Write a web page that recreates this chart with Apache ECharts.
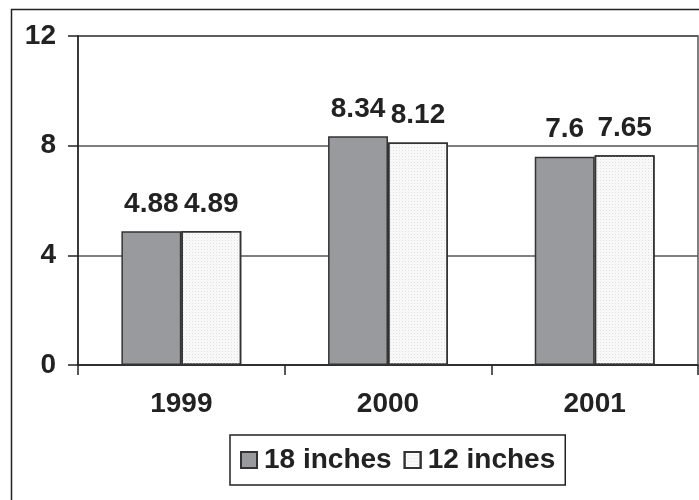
<!DOCTYPE html>
<html>
<head>
<meta charset="utf-8">
<script src="https://cdn.jsdelivr.net/npm/echarts@6/dist/echarts.min.js"></script>
<style>
html,body{margin:0;padding:0;background:#fff;}
#chart{width:699px;height:500px;}
</style>
</head>
<body>
<div id="chart"></div>
<script>
var categories = ['1999', '2000', '2001'];
var seriesNames = ['18 inches', '12 inches'];
var values18 = [4.88, 8.34, 7.6];
var values12 = [4.89, 8.12, 7.65];
var yTicks = [0, 4, 8, 12];

var FONT = "'Liberation Sans', Arial, sans-serif";
var TXT = '#222';
var chart = echarts.init(document.getElementById('chart'));

function labelCfg() {
  return {
    show: true, position: 'top', distance: 13,
    color: TXT, fontFamily: FONT, fontWeight: 'bold', fontSize: 28,
    formatter: function (p) { return String(p.value); }
  };
}

chart.setOption({
  animation: false,
  backgroundColor: '#fff',
  graphic: [{
    type: 'rect', left: 9, top: 7, silent: true,
    shape: { width: 720, height: 520 },
    style: { fill: 'none', stroke: '#222', lineWidth: 1.5 }
  }],
  grid: {
    left: 78, right: 1, top: 36, bottom: 135,
    show: true, borderColor: '#555', borderWidth: 1.5, backgroundColor: 'transparent'
  },
  legend: {
    data: seriesNames,
    left: 230, top: 435,
    orient: 'horizontal',
    borderColor: '#222', borderWidth: 1.5,
    padding: [11, 10, 11, 10],
    itemWidth: 16, itemHeight: 16, itemGap: 12,
    icon: 'rect',
    textStyle: { color: TXT, fontFamily: FONT, fontWeight: 'bold', fontSize: 28, padding: [0, 0, 0, 2] }
  },
  xAxis: {
    type: 'category',
    data: categories,
    boundaryGap: true,
    axisLine: { show: true, lineStyle: { color: '#222', width: 1.5 } },
    axisTick: { show: true, interval: 0, length: 10, lineStyle: { color: '#222', width: 1.5 } },
    axisLabel: { margin: 25, color: TXT, fontFamily: FONT, fontWeight: 'bold', fontSize: 28 }
  },
  yAxis: {
    type: 'value',
    min: yTicks[0], max: yTicks[yTicks.length - 1], interval: yTicks[1] - yTicks[0],
    axisLine: { show: true, lineStyle: { color: '#222', width: 1.5 } },
    axisTick: { show: true, length: 10, lineStyle: { color: '#222', width: 1.5 } },
    axisLabel: { margin: 22, color: TXT, fontFamily: FONT, fontWeight: 'bold', fontSize: 28 },
    splitLine: { show: true, lineStyle: { color: '#555', width: 1.5 } }
  },
  series: [{
    name: seriesNames[0], type: 'bar', data: values18,
    barGap: '0%', barCategoryGap: '42%',
    itemStyle: { color: '#999a9e', borderColor: '#333', borderWidth: 1.5 },
    label: labelCfg()
  }, {
    name: seriesNames[1], type: 'bar', data: values12,
    itemStyle: {
      color: '#f8f8f8', borderColor: '#333', borderWidth: 1.5,
      decal: { symbol: 'rect', symbolSize: 1, dashArrayX: [1, 2], dashArrayY: [1, 2], color: '#e0e0e0' }
    },
    label: labelCfg()
  }]
});
</script>
</body>
</html>
